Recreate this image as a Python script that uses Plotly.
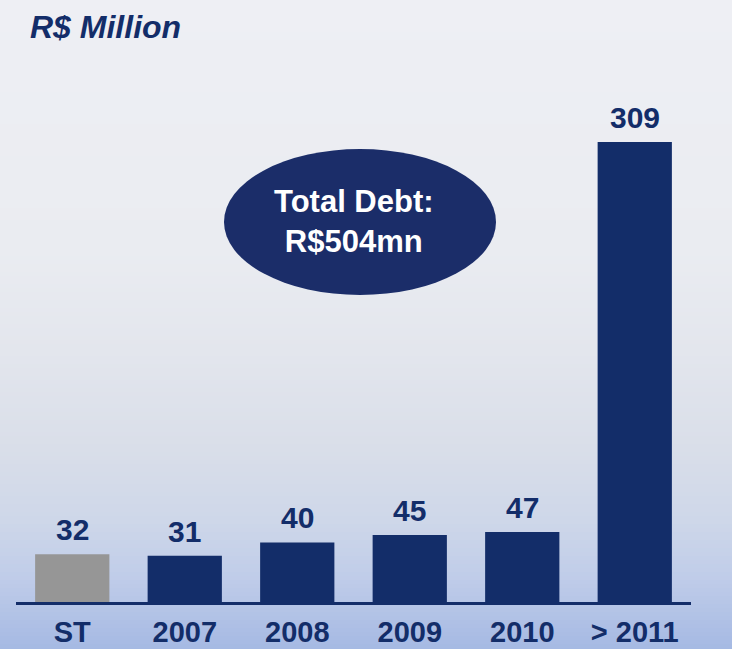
import numpy as np
import plotly.graph_objects as go

# Debt amortization schedule (R$ million)
categories = ["ST", "2007", "2008", "2009", "2010", "> 2011"]
values = [32, 31, 40, 45, 47, 309]
bar_colors = ["#969696", "#132d69", "#132d69", "#132d69", "#132d69", "#132d69"]

title_text = "R$ Million"
callout_text = "Total Debt:<br>R$504mn"

W, H = 732, 649
NAVY = "#132d69"
FONT = "Liberation Sans, Arial, sans-serif"


def px_x(x):
    return x / W


def px_y(y):
    return 1 - y / H


fig = go.Figure()
fig.add_trace(go.Bar(
    x=categories,
    y=values,
    marker=dict(color=bar_colors, line=dict(width=0)),
    width=0.66,
    hoverinfo="skip",
))

# value labels above each bar (positioned by category index)
annotations = []
for i, v in enumerate(values):
    annotations.append(dict(
        x=i, y=v, xref="x", yref="y", text=f"<b>{v}</b>",
        showarrow=False, yanchor="bottom", yshift=6,
        font=dict(family=FONT, size=30, color=NAVY),
    ))

# title
annotations.append(dict(
    x=px_x(28), y=px_y(27), xref="paper", yref="paper",
    text=f"<b><i>{title_text}</i></b>", showarrow=False,
    xanchor="left", yanchor="middle",
    font=dict(family=FONT, size=32, color=NAVY),
))

# callout text inside the ellipse
annotations.append(dict(
    x=px_x(354), y=px_y(221), xref="paper", yref="paper",
    text=f"<b>{callout_text}</b>", showarrow=False,
    xanchor="center", yanchor="middle",
    font=dict(family=FONT, size=31, color="white"),
))

# vertical background gradient built from thin bands
stops_y = [0, 250, 350, 450, 520, 580, 649]
stops_c = ["#eeeff4", "#eaecf1", "#e3e6ed", "#d9dee9", "#ced7e9", "#bfcce9", "#a5b9e3"]


def hex_rgb(h):
    h = h.lstrip("#")
    return [int(h[i:i + 2], 16) for i in (0, 2, 4)]


rgb = np.array([hex_rgb(c) for c in stops_c], dtype=float)
shapes = []
step = 4
for y in range(0, H, step):
    mid = y + step / 2
    col = [np.interp(mid, stops_y, rgb[:, k]) for k in range(3)]
    shapes.append(dict(
        type="rect", xref="paper", yref="paper", layer="below",
        x0=0, x1=1, y0=px_y(min(y + step + 1, H)), y1=px_y(y),
        fillcolor="rgb({:.0f},{:.0f},{:.0f})".format(*col),
        line=dict(width=0),
    ))

# ellipse callout
shapes.append(dict(
    type="circle", xref="paper", yref="paper", layer="above",
    x0=px_x(224), x1=px_x(496), y0=px_y(295), y1=px_y(149),
    fillcolor="#1b2d69", line=dict(width=0),
))

base_px = 602
top_px = 60
fig.update_layout(
    width=W, height=H,
    margin=dict(l=0, r=0, t=0, b=0),
    paper_bgcolor="#eeeff4",
    plot_bgcolor="rgba(0,0,0,0)",
    showlegend=False,
    shapes=shapes,
    annotations=annotations,
    xaxis=dict(
        type="category",
        domain=[px_x(16), px_x(691)],
        range=[-0.5, 5.5],
        showline=True, linecolor=NAVY, linewidth=3,
        showgrid=False, zeroline=False,
        ticks="outside", ticklen=2, tickcolor="rgba(0,0,0,0)",
        tickfont=dict(family=FONT, size=29, color=NAVY, weight="bold"),
        automargin=False,
        fixedrange=True,
    ),
    yaxis=dict(
        domain=[px_y(base_px), px_y(top_px)],
        range=[0, 309 * (base_px - top_px) / 460],
        visible=False, fixedrange=True, automargin=False,
    ),
)

fig.write_html("out.html")
